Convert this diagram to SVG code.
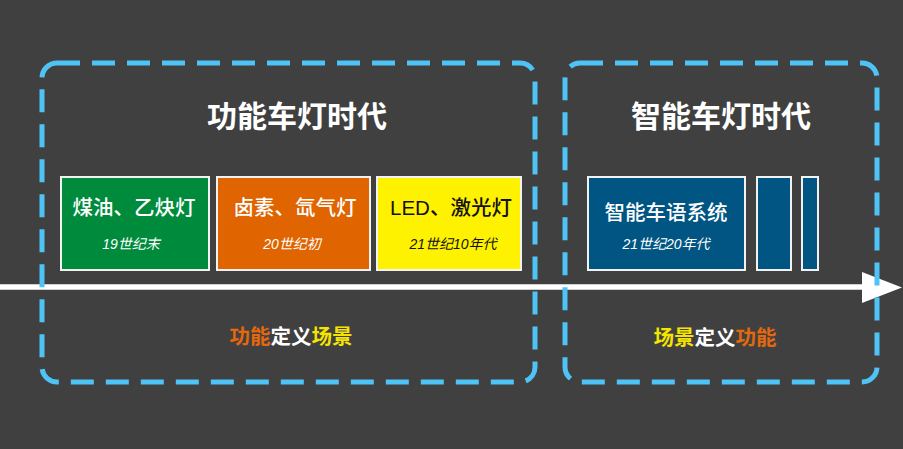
<svg xmlns="http://www.w3.org/2000/svg" width="903" height="449" viewBox="0 0 903 449">
<defs>
<style>
.frame{fill:none;stroke:#4fc3f5;stroke-width:5;stroke-dasharray:23 12;}
.box{stroke:#f2f2f2;stroke-width:2;}
.t{font-family:"Liberation Sans","Noto Sans CJK SC",sans-serif;text-anchor:middle;}
.title{font-size:30px;font-weight:bold;fill:#ffffff;}
.main{font-size:20.5px;font-weight:500;}
.sub{font-size:14px;font-style:italic;}
.lab{font-size:20.5px;font-weight:bold;}
.or{fill:#e4680c;}
.ye{fill:#f5e400;}
.wh{fill:#ffffff;}
</style>
</defs>
<rect width="903" height="449" fill="#404040"/>
<g id="connectors">
<line x1="0" y1="287" x2="866" y2="287" stroke="#ffffff" stroke-width="5.5"/>
<polygon points="862,272 902,287.5 862,303" fill="#ffffff"/>
</g>
<g id="era-functional">
<rect class="frame" x="42" y="63" width="493" height="319" rx="15"/>
<text class="t title" x="297" y="127">功能车灯时代</text>
<text class="t lab" x="291" y="344"><tspan class="or">功能</tspan><tspan class="wh">定义</tspan><tspan class="ye">场景</tspan></text>
</g>
<g id="node-kerosene">
<rect class="box" x="61" y="177" width="148" height="93" fill="#008b3c"/>
<text class="t main wh" x="134" y="215">煤油、乙炔灯</text>
<text class="t sub wh" x="131" y="249">19世纪末</text>
</g>
<g id="node-halogen">
<rect class="box" x="217" y="177" width="153" height="93" fill="#e06400"/>
<text class="t main wh" x="295" y="215">卤素、氙气灯</text>
<text class="t sub wh" x="292" y="249">20世纪初</text>
</g>
<g id="node-led">
<rect class="box" x="377" y="177" width="144" height="93" fill="#fff200"/>
<text class="t main" x="451" y="215" fill="#111111">LED、激光灯</text>
<text class="t sub" x="453" y="249" fill="#111111">21世纪10年代</text>
</g>
<g id="era-smart">
<rect class="frame" x="565" y="63" width="312" height="319" rx="15"/>
<text class="t title" x="721" y="127">智能车灯时代</text>
<text class="t lab" x="715" y="345"><tspan class="ye">场景</tspan><tspan class="wh">定义</tspan><tspan class="or">功能</tspan></text>
</g>
<g id="node-smart-language">
<rect class="box" x="588" y="177" width="157" height="93" fill="#005582"/>
<text class="t main wh" x="666" y="220">智能车语系统</text>
<text class="t sub wh" x="666" y="249">21世纪20年代</text>
</g>
<g id="node-future-1">
<rect class="box" x="757" y="177" width="34" height="93" fill="#005582"/>
</g>
<g id="node-future-2">
<rect class="box" x="802" y="177" width="16" height="93" fill="#005582"/>
</g>
</svg>
